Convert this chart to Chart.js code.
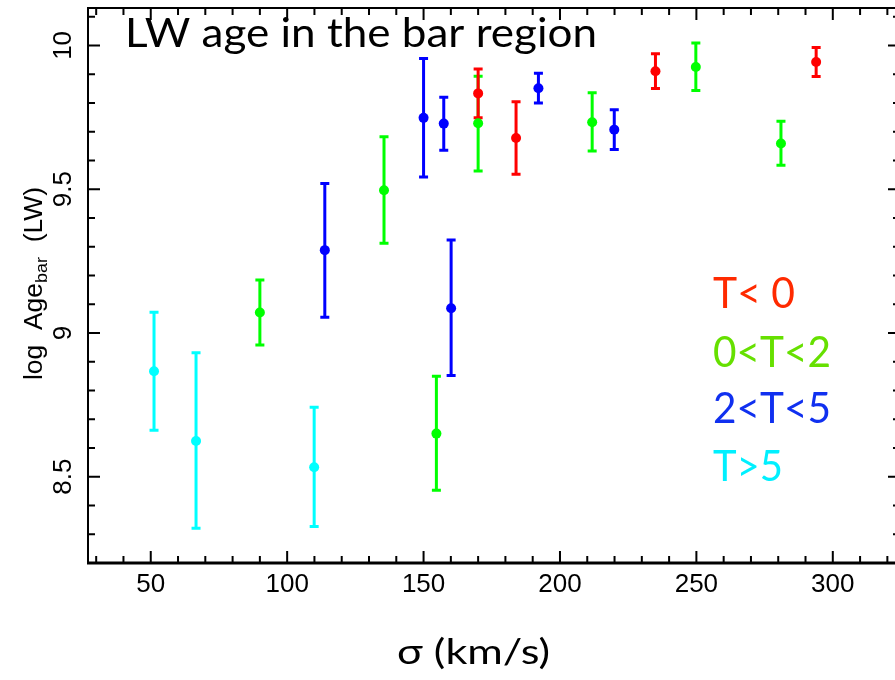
<!DOCTYPE html>
<html>
<head>
<meta charset="utf-8">
<script src="https://cdn.jsdelivr.net/npm/chart.js@4"></script>
<style>
  html, body { margin: 0; padding: 0; background: #fff; }
  canvas { display: block; }
</style>
</head>
<body>
<canvas id="chart" width="895" height="680"></canvas>
<script>
// sigma (km/s), log age, and error bar ends, per T class
const redSigma = [170.0, 183.9, 235.0, 293.9];
const redAge = [9.833, 9.678, 9.910, 9.942];
const redLo = [9.748, 9.552, 9.850, 9.892];
const redHi = [9.918, 9.804, 9.971, 9.993];

const greenSigma = [90.0, 135.5, 154.7, 170.0, 211.8, 249.8, 281.0];
const greenAge = [9.071, 9.496, 8.650, 9.729, 9.733, 9.925, 9.659];
const greenLo = [8.958, 9.312, 8.453, 9.563, 9.633, 9.843, 9.583];
const greenHi = [9.184, 9.682, 8.849, 9.893, 9.835, 10.008, 9.736];

const blueSigma = [113.8, 150.0, 157.4, 160.1, 192.1, 219.9];
const blueAge = [9.288, 9.748, 9.728, 9.086, 9.851, 9.707];
const blueLo = [9.055, 9.542, 9.635, 8.852, 9.800, 9.638];
const blueHi = [9.520, 9.954, 9.820, 9.323, 9.903, 9.776];

const cyanSigma = [51.2, 66.6, 109.9];
const cyanAge = [8.867, 8.624, 8.533];
const cyanLo = [8.662, 8.321, 8.327];
const cyanHi = [9.072, 8.931, 8.742];

const xTicks = [50, 100, 150, 200, 250, 300];
const yTicks = [8.5, 9, 9.5, 10];
const legendLabels = ["T< 0", "0<T<2", "2<T<5", "T>5"];

function makeSet(label, xs, ys, lo, hi, color) {
  return {
    label: label,
    data: xs.map((x, i) => ({ x: x, y: ys[i], lo: lo[i], hi: hi[i] })),
    backgroundColor: color,
    borderWidth: 0,
    pointRadius: 5,
    errColor: color,
  };
}

// text squeezed/stretched to a given width
function fitText(ctx, text, x, y, width) {
  const w = ctx.measureText(text).width;
  ctx.save();
  ctx.translate(x, y);
  ctx.scale(width / w, 1);
  ctx.fillText(text, 0, 0);
  ctx.restore();
}

const errorBars = {
  id: "errorBars",
  beforeDatasetsDraw(chart) {
    const ctx = chart.ctx;
    const xs = chart.scales.x, ys = chart.scales.y;
    ctx.save();
    chart.data.datasets.forEach(ds => {
      ctx.strokeStyle = ds.errColor;
      ctx.lineWidth = 3;
      ds.data.forEach(p => {
        const px = xs.getPixelForValue(p.x);
        const top = ys.getPixelForValue(p.hi);
        const bot = ys.getPixelForValue(p.lo);
        ctx.beginPath();
        ctx.moveTo(px, top); ctx.lineTo(px, bot);
        ctx.moveTo(px - 4.5, top); ctx.lineTo(px + 4.5, top);
        ctx.moveTo(px - 4.5, bot); ctx.lineTo(px + 4.5, bot);
        ctx.stroke();
      });
    });
    ctx.restore();
  },
};

const frame = {
  id: "frame",
  afterDraw(chart) {
    const ctx = chart.ctx;
    const a = chart.chartArea;
    const xs = chart.scales.x, ys = chart.scales.y;
    const rightX = a.right + 5; // right axis sits just past the canvas edge
    ctx.save();
    ctx.strokeStyle = "#000";
    ctx.fillStyle = "#000";

    // axes box
    ctx.lineWidth = 2;
    ctx.beginPath();
    ctx.moveTo(a.left, a.bottom); ctx.lineTo(a.left, a.top);
    ctx.lineTo(rightX, a.top); ctx.lineTo(rightX, a.bottom);
    ctx.stroke();
    ctx.lineWidth = 3;
    ctx.beginPath();
    ctx.moveTo(a.left - 1, a.bottom); ctx.lineTo(rightX, a.bottom);
    ctx.stroke();

    // inward ticks
    ctx.lineWidth = 2;
    ctx.beginPath();
    for (let v = 30; v <= 320; v += 10) {
      const px = xs.getPixelForValue(v);
      const len = v % 50 === 0 ? 12 : 7;
      ctx.moveTo(px, a.bottom); ctx.lineTo(px, a.bottom - len);
      ctx.moveTo(px, a.top); ctx.lineTo(px, a.top + len);
    }
    for (let k = 83; k <= 101; k++) {
      const py = ys.getPixelForValue(k / 10);
      const len = k % 5 === 0 ? 12 : 7;
      ctx.moveTo(a.left, py); ctx.lineTo(a.left + len, py);
      ctx.moveTo(rightX, py); ctx.lineTo(rightX - len, py);
    }
    ctx.stroke();

    // tick labels
    ctx.font = "26px 'Liberation Sans', Arial, sans-serif";
    ctx.textAlign = "center";
    ctx.textBaseline = "middle";
    xTicks.forEach(v => {
      ctx.fillText(String(v), xs.getPixelForValue(v), 585);
    });
    yTicks.forEach(v => {
      ctx.save();
      ctx.translate(64, ys.getPixelForValue(v));
      ctx.rotate(-Math.PI / 2);
      ctx.fillText(String(v), 0, 0);
      ctx.restore();
    });

    // y axis label with subscript
    ctx.save();
    ctx.translate(42, 380);
    ctx.rotate(-Math.PI / 2);
    ctx.textAlign = "left";
    ctx.textBaseline = "alphabetic";
    ctx.font = "25px 'Liberation Sans', Arial, sans-serif";
    const partA = "log  Age";
    const partC = "  (LW)";
    const wA = ctx.measureText(partA).width;
    const wC = ctx.measureText(partC).width;
    ctx.font = "17px 'Liberation Sans', Arial, sans-serif";
    const wB = ctx.measureText("bar").width;
    const s = 193 / (wA + wB + wC);
    ctx.scale(s, 1);
    ctx.fillText("bar", wA, 5);
    ctx.font = "25px 'Liberation Sans', Arial, sans-serif";
    ctx.fillText(partA, 0, 0);
    ctx.fillText(partC, wA + wB, 0);
    ctx.restore();

    // title, legend and x axis label
    ctx.textAlign = "left";
    ctx.textBaseline = "alphabetic";
    ctx.font = "40px Lato, 'Open Sans', sans-serif";
    fitText(ctx, "LW age in the bar region", 125, 47, 472);

    const legendColors = ["#ff2a00", "#66e000", "#1030f0", "#00f0ff"];
    const legendY = [308, 367, 423, 481];
    const legendW = [82, 118, 118, 70];
    ctx.font = "42px Lato, 'Open Sans', sans-serif";
    legendLabels.forEach((t, i) => {
      ctx.fillStyle = legendColors[i];
      fitText(ctx, t, 713, legendY[i], legendW[i]);
    });

    ctx.fillStyle = "#000";
    ctx.font = "35px Lato, 'Open Sans', sans-serif";
    fitText(ctx, "σ (km/s)", 397, 664, 153);
    ctx.restore();
  },
};

new Chart(document.getElementById("chart"), {
  type: "scatter",
  data: {
    datasets: [
      makeSet("T>5", cyanSigma, cyanAge, cyanLo, cyanHi, "#00ffff"),
      makeSet("0<T<2", greenSigma, greenAge, greenLo, greenHi, "#00ff00"),
      makeSet("2<T<5", blueSigma, blueAge, blueLo, blueHi, "#0000ff"),
      makeSet("T< 0", redSigma, redAge, redLo, redHi, "#ff0000"),
    ],
  },
  options: {
    responsive: false,
    devicePixelRatio: 1,
    animation: false,
    layout: { autoPadding: false, padding: { left: 88, top: 8, right: 0, bottom: 117 } },
    plugins: { legend: { display: false }, tooltip: { enabled: false } },
    scales: {
      x: { type: "linear", min: 27, max: 322.8, display: false },
      y: { type: "linear", min: 8.2, max: 10.13, display: false },
    },
  },
  plugins: [errorBars, frame],
});
</script>
</body>
</html>
